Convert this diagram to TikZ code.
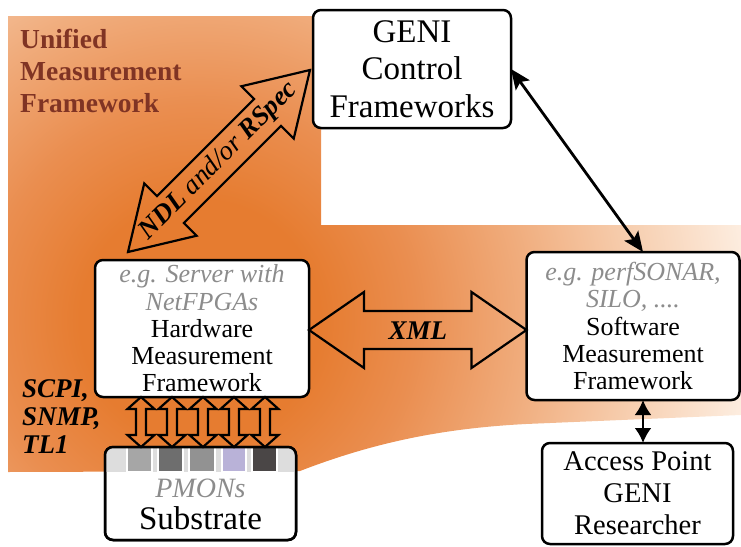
\documentclass[tikz,border=0pt]{standalone}
\usepackage{fontspec}
\setmainfont{LiberationSerif}[Extension=.ttf, UprightFont=*-Regular, BoldFont=*-Bold,
  ItalicFont=*-Italic, BoldItalicFont=*-BoldItalic]
\usetikzlibrary{calc,arrows.meta}

\definecolor{umfbrown}{RGB}{128,52,36}
\definecolor{egray}{RGB}{140,140,140}
\definecolor{orA}{RGB}{230,124,48}
\definecolor{orB}{RGB}{234,142,80}
\definecolor{orC}{RGB}{240,172,124}
\definecolor{orD}{RGB}{247,208,178}
\definecolor{orE}{RGB}{253,238,225}
\definecolor{barbase}{RGB}{221,221,221}
\definecolor{pmA}{RGB}{166,166,166}
\definecolor{pmB}{RGB}{110,110,110}
\definecolor{pmC}{RGB}{146,146,146}
\definecolor{pmD}{RGB}{185,178,216}
\definecolor{pmE}{RGB}{74,70,70}

% glow of the measurement-framework region; the shaded circle's radius maps to 25bp
\pgfdeclareradialshading{umfglow}{\pgfpoint{0bp}{0bp}}{%
  color(0bp)=(orA); color(5bp)=(orA); color(9bp)=(orB);
  color(13.5bp)=(orC); color(18.5bp)=(orD); color(23bp)=(orE); color(50bp)=(orE)}

\newcommand\fsBig{\fontsize{33}{37.5}\selectfont}
\newcommand\fsMid{\fontsize{26}{27.2}\selectfont}
\newcommand\fsAcc{\fontsize{28.5}{32}\selectfont}

% outlined double arrow between two tips:
% #1,#2 tips, #3 head length, #4 head half width, #5 shaft half width
\newcommand\fatdbl[5]{%
  \draw[fat] (#1)
    -- ($(#1)!#3!(#2)!#4!90:(#2)$) -- ($(#1)!#3!(#2)!#5!90:(#2)$)
    -- ($(#2)!#3!(#1)!#5!-90:(#1)$) -- ($(#2)!#3!(#1)!#4!-90:(#1)$)
    -- (#2)
    -- ($(#2)!#3!(#1)!#4!90:(#1)$) -- ($(#2)!#3!(#1)!#5!90:(#1)$)
    -- ($(#1)!#3!(#2)!#5!-90:(#2)$) -- ($(#1)!#3!(#2)!#4!-90:(#2)$)
    -- cycle;}

\tikzset{
  box/.style={draw=black, line width=2.5pt, rounded corners=8pt, fill=white,
    inner sep=0pt, outer sep=0pt, align=center},
  fat/.style={draw=black, line width=2.2pt, line join=miter},
  conn/.style={line width=2.8pt,
    {Stealth[length=20pt,width=17pt,inset=4pt]}-{Stealth[length=20pt,width=17pt,inset=4pt]}},
  shortconn/.style={line width=2.5pt,
    {Latex[length=15pt,width=17pt]}-{Latex[length=15pt,width=17pt]}},
}

\begin{document}
\begin{tikzpicture}[x=1pt,y=-1pt]
\useasboundingbox (0,0) rectangle (741,546);

% shaded region of the unified measurement framework
\begin{scope}
  \clip (8,16) -- (321,16) -- (321,225) -- (741,225) -- (741,415)
    -- (526,424) .. controls (450,428) and (380,440) .. (300,471)
    -- (8,472) -- cycle;
  \shade[shading=umfglow] (200,320) circle (600pt);
\end{scope}

\node[anchor=north west, inner sep=0pt, align=left, text=umfbrown,
  font=\bfseries\fontsize{27.5}{32}\selectfont] (umf) at (20,29)
  {Unified\\Measurement\\Framework};

% boxes
\node[box, minimum width=198pt, minimum height=118pt, font=\fsBig] (geni) at (412,69)
  {GENI\\Control\\Frameworks};
\node[box, minimum width=214pt, minimum height=137pt, font=\fsMid] (hw) at (202,328.5)
  {\textcolor{egray}{\textit{e.g. Server with}}\\\textcolor{egray}{\textit{NetFPGAs}}\\Hardware\\Measurement\\Framework};
\node[box, minimum width=213pt, minimum height=148pt, font=\fsMid] (sw) at (633,326)
  {\textcolor{egray}{\textit{e.g. perfSONAR,}}\\\textcolor{egray}{\textit{SILO, ....}}\\Software\\Measurement\\Framework};
\node[box, minimum width=191pt, minimum height=101pt, font=\fsAcc] (acc) at (637.5,493.5)
  {Access Point\\GENI\\Researcher};
\node[box, minimum width=191pt, minimum height=93pt] (sub) at (200.5,493.5) {};

% PMON strip along the top of the substrate box
\begin{scope}
  \clip[rounded corners=8pt] (sub.south west) rectangle (sub.north east);
  \fill[barbase] (sub.north west) rectangle (296,472);
  \foreach \xa/\xb/\c in {127/152/pmA, 158/183/pmB, 189/215/pmC, 222/246/pmD, 252/277/pmE}
    \filldraw[fill=\c, draw=white, line width=1.2pt] (\xa,446) rectangle (\xb,472);
\end{scope}
\draw[line width=2.5pt, rounded corners=8pt] (sub.south west) rectangle (sub.north east);
\node[align=center, font=\fontsize{33}{32}\selectfont] (subtxt) at (200.5,504.5)
  {\textcolor{egray}{\fontsize{28}{32}\selectfont\textit{PMONs}}\\Substrate};

% protocol labels
\node[anchor=north west, inner sep=0pt, align=left,
  font=\bfseries\itshape\fontsize{27}{28}\selectfont] (proto) at (22,379)
  {SCPI,\\SNMP,\\TL1};

% NDL / RSpec exchange with the control frameworks
\coordinate (ndlA) at ($(hw.north west)+(33,-8)$);
\coordinate (ndlB) at ($(geni.west)+(-3,1)$);
\fatdbl{ndlA}{ndlB}{60pt}{37pt}{19pt}
\path (ndlA) -- (ndlB) node[midway, sloped, inner sep=0pt,
  font=\itshape\fontsize{27}{30}\selectfont] (ndltxt)
  {\textbf{NDL} and/or \textbf{RSpec}};

% XML exchange between the measurement frameworks
\coordinate (xmlA) at (hw.east |- 0,330);
\coordinate (xmlB) at (sw.west |- 0,330);
\fatdbl{xmlA}{xmlB}{55pt}{38pt}{19pt}
\node[font=\bfseries\itshape\fontsize{27}{30}\selectfont, inner sep=0pt] (xml)
  at ($(xmlA)!0.5!(xmlB)+(0,1)$) {XML};

% PMON links between hardware framework and substrate
\foreach \k/\x in {1/141, 2/172, 3/203, 4/234, 5/265} {
  \coordinate (pu\k) at (hw.south -| \x,0);
  \coordinate (pd\k) at (sub.north -| \x,0);
  \fatdbl{pu\k}{pd\k}{12pt}{13.5pt}{5pt}
}

% control links
\draw[conn] (geni.east) -- ([xshift=10pt]sw.north);
\coordinate (axv) at (643,0);
\draw[shortconn] (sw.south -| axv) -- (acc.north -| axv);
\end{tikzpicture}
\end{document}
